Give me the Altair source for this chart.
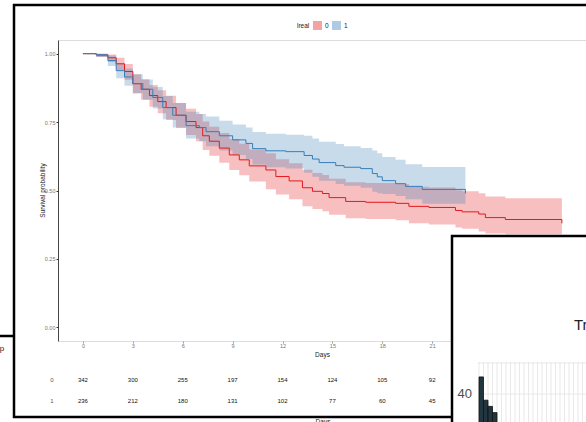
import altair as alt
import pandas as pd

# ---- survival curves ----
red_time = [0, 0.8, 1.5, 2.0, 2.5, 3.0, 3.5, 4.0, 4.5, 5.0, 5.6, 6.2, 6.8, 7.2, 7.6, 8.2, 8.8, 9.4,
            10.0, 11.0, 11.6, 12.4, 13.2, 13.8, 14.4, 14.8, 15.8, 17.0, 18.8, 19.6, 20.8, 22.4, 22.8,
            23.8, 24.2, 25.4, 28.8]
red_surv = [1.000, 0.995, 0.985, 0.963, 0.935, 0.890, 0.870, 0.847, 0.825, 0.803, 0.775, 0.752, 0.730,
            0.700, 0.680, 0.655, 0.630, 0.612, 0.590, 0.575, 0.551, 0.535, 0.510, 0.497, 0.489, 0.474,
            0.460, 0.457, 0.453, 0.442, 0.438, 0.427, 0.422, 0.414, 0.401, 0.394, 0.380]
red_upper = [1.000, 1.000, 0.997, 0.985, 0.962, 0.925, 0.907, 0.886, 0.866, 0.846, 0.820, 0.799, 0.780,
             0.752, 0.733, 0.710, 0.688, 0.671, 0.650, 0.636, 0.614, 0.600, 0.576, 0.564, 0.557, 0.543,
             0.530, 0.527, 0.524, 0.514, 0.511, 0.501, 0.497, 0.490, 0.478, 0.472, 0.460]
red_lower = [1.000, 0.988, 0.970, 0.940, 0.905, 0.855, 0.832, 0.806, 0.782, 0.758, 0.728, 0.703, 0.680,
             0.648, 0.627, 0.601, 0.575, 0.556, 0.533, 0.505, 0.485, 0.468, 0.442, 0.432, 0.424, 0.411,
             0.399, 0.396, 0.391, 0.380, 0.376, 0.365, 0.360, 0.350, 0.343, 0.340, 0.335]

blue_time = [0, 0.8, 1.5, 2.0, 2.5, 3.0, 3.6, 4.2, 4.8, 5.4, 6.2, 7.0, 7.4, 8.2, 9.0, 9.8, 10.2, 11.0,
             12.2, 13.3, 13.8, 14.2, 15.2, 15.7, 16.7, 17.4, 17.7, 18.0, 18.8, 19.4, 20.4, 23.0]
blue_surv = [1.000, 0.996, 0.975, 0.938, 0.915, 0.891, 0.870, 0.840, 0.803, 0.775, 0.737, 0.730, 0.715,
             0.700, 0.685, 0.672, 0.653, 0.645, 0.642, 0.628, 0.615, 0.602, 0.591, 0.585, 0.580, 0.562,
             0.550, 0.536, 0.525, 0.515, 0.504, 0.489]
blue_upper = [1.000, 1.000, 0.993, 0.965, 0.946, 0.925, 0.906, 0.878, 0.845, 0.820, 0.788, 0.780, 0.770,
              0.755, 0.741, 0.730, 0.714, 0.707, 0.704, 0.700, 0.690, 0.678, 0.670, 0.662, 0.655, 0.646,
              0.636, 0.622, 0.612, 0.596, 0.586, 0.580]
blue_lower = [1.000, 0.988, 0.955, 0.910, 0.883, 0.855, 0.832, 0.800, 0.760, 0.730, 0.690, 0.680, 0.662,
              0.646, 0.630, 0.615, 0.595, 0.585, 0.580, 0.565, 0.550, 0.536, 0.524, 0.517, 0.510, 0.495,
              0.490, 0.487, 0.480, 0.468, 0.452, 0.422]

# ---- number at risk ----
risk_time = [0, 3, 6, 9, 12, 15, 18, 21]
risk_0 = [342, 300, 255, 197, 154, 124, 105, 92]
risk_1 = [236, 212, 180, 131, 102, 77, 60, 45]

x_ticks = [0, 3, 6, 9, 12, 15, 18, 21]
y_ticks = [0, 0.25, 0.5, 0.75, 1.0]

# ---- fragment of the overlapping histogram ----
hist_start = [0, 1, 2, 3]
hist_end = [1, 2, 3, 4]
hist_count = [51, 36, 32, 28]
hist_edges = list(range(0, 25))
hist_grid = [40, 60]

RED = "#E41A1C"
BLUE = "#377EB8"


def frame(t, s, lo, up, g):
    return pd.DataFrame({"time": t, "surv": s, "lower": lo, "upper": up, "group": g})


surv_df = pd.concat([frame(red_time, red_surv, red_lower, red_upper, "0"),
                     frame(blue_time, blue_surv, blue_lower, blue_upper, "1")], ignore_index=True)

x_scale = alt.Scale(domain=[-1.5, 30.25], nice=False, zero=False)
y_scale = alt.Scale(domain=[-0.05, 1.05], nice=False, zero=False)
color_scale = alt.Scale(domain=["0", "1"], range=[RED, BLUE])

x_axis = alt.Axis(values=x_ticks, title="Days", domain=False, grid=False, tickSize=2,
                  tickColor="#999", labelFontSize=5.5, labelColor="#777", labelPadding=0.5,
                  titleFontSize=6.5, titleFontWeight="normal", titleColor="#222",
                  titleY=13, titleBaseline="middle")
y_axis = alt.Axis(values=y_ticks, format=".2f", title="Survival probability", grid=False,
                  domainColor="#333", domainWidth=0.9, tickColor="#333", tickSize=2,
                  labelFontSize=5.5, labelColor="#777", labelPadding=1,
                  titleFontSize=6.5, titleFontWeight="normal", titleColor="#222",
                  titleX=-16, titleY=150, titleAngle=270, titleAlign="center",
                  titleBaseline="middle")

base = alt.Chart(surv_df)

band = base.mark_area(interpolate="step-after", opacity=0.28).encode(
    x=alt.X("time:Q", scale=x_scale, axis=x_axis),
    y=alt.Y("lower:Q", scale=y_scale, axis=y_axis),
    y2="upper:Q",
    color=alt.Color("group:N", scale=color_scale,
                    legend=alt.Legend(title="lreal", orient="none", legendX=239, legendY=-19,
                                      direction="horizontal", titleOrient="left",
                                      symbolType="square", symbolSize=81, symbolOpacity=0.4,
                                      symbolStrokeWidth=0, labelFontSize=6.5,
                                      titleFontSize=6.5, titleFontWeight="normal",
                                      titleColor="#222", labelColor="#222",
                                      titlePadding=3, labelOffset=3, columnPadding=3)),
)

line = base.mark_line(interpolate="step-after", strokeWidth=1).encode(
    x=alt.X("time:Q", scale=x_scale, axis=x_axis),
    y=alt.Y("surv:Q", scale=y_scale, axis=y_axis),
    color=alt.Color("group:N", scale=color_scale, legend=None),
)

risk_df0 = pd.DataFrame({"time": risk_time, "n": risk_0})
risk_df1 = pd.DataFrame({"time": risk_time, "n": risk_1})


def risk_row(df, yv):
    return alt.Chart(df).mark_text(fontSize=6, fill="#111").encode(
        x=alt.X("time:Q", scale=x_scale, axis=x_axis),
        y=alt.value(yv),
        text="n:Q",
    )


one = pd.DataFrame({"k": [0]})


def label(txt, xv, yv, size=6, color="#555", align="center", baseline="middle"):
    return alt.Chart(one).mark_text(fontSize=size, fill=color, align=align,
                                    baseline=baseline).encode(
        x=alt.value(xv), y=alt.value(yv), text=alt.value(txt))


def hline(x1, x2, yv, w=2.5):
    return alt.Chart(one).mark_rule(color="black", strokeWidth=w).encode(
        x=alt.value(x1), x2=alt.value(x2), y=alt.value(yv))


def vline(xv, y1, y2, w=2.5):
    return alt.Chart(one).mark_rule(color="black", strokeWidth=w).encode(
        x=alt.value(xv), y=alt.value(y1), y2=alt.value(y2))


inset_box = alt.Chart(one).mark_rect(fill="white", stroke="black", strokeWidth=2.5).encode(
    x=alt.value(394), x2=alt.value(560), y=alt.value(196), y2=alt.value(420))

main = alt.layer(
    band, line,
    risk_row(risk_df0, 340), risk_row(risk_df1, 361),
    label("0", -6, 340), label("1", -6, 361),
    label("Days", 265, 379, size=6.5, color="#222", baseline="top"),
    hline(-45, 560, -35), vline(-44, -36, 378), hline(-45, 394, 377),
    hline(-60, -44, 296), label("p", -56, 309, size=8, color="#222"),
    inset_box,
)

hx = alt.Scale(domain=[0, 24], range=[421, 529], nice=False, zero=False)
hy = alt.Scale(domain=[40, 60], range=[354, 323], nice=False, zero=False)

hist_df = pd.DataFrame({"start": hist_start, "end": hist_end, "count": hist_count})
edge_df = pd.DataFrame({"edge": hist_edges})
grid_df = pd.DataFrame({"tick": hist_grid, "lab": ["40", ""]})

vgrid = alt.Chart(edge_df).mark_rule(color="#e3e3e3", strokeWidth=0.8).encode(
    x=alt.X("edge:Q", scale=hx, axis=None), y=alt.value(322), y2=alt.value(400))
hgrid = alt.Chart(grid_df).mark_rule(color="#e3e3e3", strokeWidth=0.8).encode(
    y=alt.Y("tick:Q", scale=hy, axis=None), x=alt.value(420), x2=alt.value(540))
ylab = alt.Chart(grid_df).mark_text(fontSize=13, fill="#4d4d4d", align="right",
                                    baseline="middle").encode(
    y=alt.Y("tick:Q", scale=hy, axis=None), x=alt.value(414), text="lab:N")
bars = alt.Chart(hist_df).mark_rect(fill="#22363f", stroke="#111", strokeWidth=0.8).encode(
    x=alt.X("start:Q", scale=hx, axis=None), x2="end:Q",
    y=alt.Y("count:Q", scale=hy, axis=None), y2=alt.value(400))
htitle = label("Treatment", 516, 290, size=15, color="#222", align="left", baseline="alphabetic")

hist = alt.layer(vgrid, hgrid, bars, ylab, htitle)

chart = alt.layer(main, hist).resolve_scale(x="independent", y="independent").properties(
    width=528, height=301,
    autosize=alt.AutoSizeParams(type="none"),
    padding={"left": 58, "top": 40, "right": 0, "bottom": 81},
    background="white",
).configure_view(stroke=None).configure(font="Liberation Sans")

chart.save("out.html", embed_options={"renderer": "svg", "actions": False})
